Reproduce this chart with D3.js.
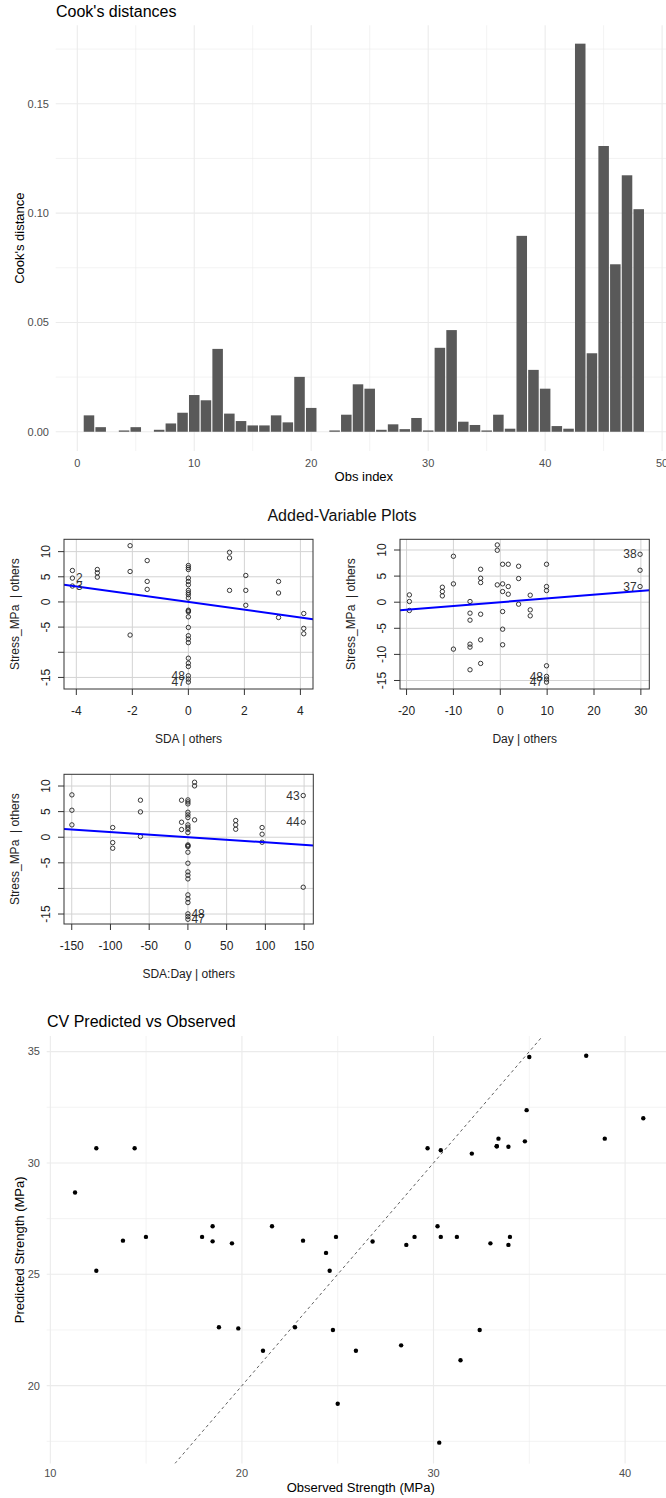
<!DOCTYPE html>
<html><head><meta charset="utf-8">
<script src="https://cdn.jsdelivr.net/npm/d3@7"></script>
<style>
body{margin:0;background:#fff}
svg{display:block}
text{font-family:"Liberation Sans",Arial,Helvetica,sans-serif}
</style>
</head><body>
<svg id="c" width="666" height="1498"></svg>
<script>
// ---------------- Cook's distances ----------------
const cookIndex = [1,2,3,4,5,6,7,8,9,10,11,12,13,14,15,16,17,18,19,20,21,22,23,24,25,26,27,28,29,30,31,32,33,34,35,36,37,38,39,40,41,42,43,44,45,46,47,48];
const cookDist = [0.0075,0.0021,0.0000,0.0006,0.0021,0.0000,0.0009,0.0038,0.0087,0.0168,
  0.0144,0.0379,0.0083,0.0049,0.0029,0.0029,0.0075,0.0043,0.0251,0.0109,
  0.0000,0.0006,0.0078,0.0217,0.0197,0.0009,0.0034,0.0012,0.0063,0.0006,
  0.0384,0.0465,0.0046,0.0031,0.0006,0.0078,0.0014,0.0896,0.0283,0.0197,
  0.0026,0.0014,0.1775,0.0359,0.1307,0.0766,0.1173,0.1018];
const cookXTicks = [0,10,20,30,40,50];
const cookXMinor = [5,15,25,35,45];
const cookYTicks = [0,0.05,0.10,0.15];
const cookYLabels = ["0.00","0.05","0.10","0.15"];
const cookYMinor = [0.025,0.075,0.125,0.175];

// ---------------- Added-variable plots ----------------
const av1X = [-4.14,-4.14,-4.14,-3.25,-3.25,-3.25,-2.08,-2.08,-2.08,-1.47,-1.47,-1.47,
  0,0,0,0,0,0,0,0,0,0,0,0,0,0,0,0,0,0,0,0,0,0,0,0,
  1.47,1.47,1.47,2.05,2.05,2.05,3.22,3.22,3.22,4.12,4.12,4.12];
const av1Y = [6.25,4.74,3.16,6.45,5.79,4.93,11.18,6.05,-6.58,8.22,4.08,2.5,
  7.24,6.84,6.45,4.74,4.08,3.42,2.3,1.84,1.45,0.79,-1.64,-1.78,-1.97,-2.96,-5.07,-6.71,-7.37,-8.09,-11.18,-12.17,-12.83,-14.67,-15.33,-15.92,
  9.87,8.75,2.3,5.26,2.3,-0.66,4.08,1.78,-3.09,-2.3,-5.26,-6.32];
const av1Labels = [{t:"2",x:-4.14,y:4.74,side:"r"},{t:"3",x:-4.14,y:3.16,side:"r"},
  {t:"48",x:0,y:-14.67,side:"l"},{t:"47",x:0,y:-15.92,side:"l"}];

const av2X = [-19.4,-19.4,-19.4,-12.36,-12.36,-12.36,-10,-10,-10,
  -6.46,-6.46,-6.46,-6.46,-6.46,-6.46,-4.19,-4.19,-4.19,-4.19,-4.19,-4.19,
  -0.64,-0.64,-0.64,0.5,0.5,0.5,0.5,0.5,0.5,1.7,1.7,1.7,3.91,3.91,3.91,6.39,6.39,6.39,
  9.87,9.87,9.87,9.87,9.87,9.87,9.87,29.83,29.83,29.83];
const av2Y = [1.40,0.13,-1.59,2.87,2.04,1.21,8.8,3.51,-8.99,
  0.13,-2.1,-3.44,-8.04,-8.6,-12.95,6.31,4.59,3.76,-2.30,-7.21,-11.73,
  10.97,9.95,3.32,7.27,3.51,2.04,-1.79,-5.17,-8.16,7.27,3.0,1.53,6.89,4.53,-0.38,1.34,-1.47,-2.61,
  7.27,3.0,2.23,-12.18,-14.22,-14.73,-15.31,9.18,6.12,3.0];
const av2Labels = [{t:"38",x:29.83,y:9.18,side:"l"},{t:"37",x:29.83,y:3.0,side:"l"},
  {t:"48",x:9.87,y:-14.22,side:"l"},{t:"47",x:9.87,y:-15.31,side:"l"}];

const av3X = [-149.8,-149.8,-149.8,-97.1,-97.1,-97.1,-61.3,-61.3,-61.3,-8.2,-8.2,-8.2,
  0,0,0,0,0,0,0,0,0,0,0,0,0,0,0,0,0,0,0,0,0,0,0,0,
  8.6,8.6,8.6,61.7,61.7,61.7,95.8,95.8,95.8,148.9,148.9,148.9];
const av3Y = [8.27,5.27,2.41,1.89,-1.04,-2.15,7.23,4.95,0.13,7.23,2.93,1.5,
  7.29,6.90,6.51,4.88,4.36,3.84,2.41,1.95,1.56,0.91,-1.50,-1.66,-1.82,-2.93,-5.08,-6.77,-7.42,-8.14,-11.26,-12.04,-12.76,-14.97,-15.49,-16.02,
  10.74,10.03,3.39,3.26,2.41,1.56,1.89,0.59,-0.98,8.14,2.93,-9.77];
const av3Labels = [{t:"43",x:148.9,y:8.14,side:"l"},{t:"44",x:148.9,y:2.93,side:"l"},
  {t:"48",x:0,y:-14.97,side:"r"},{t:"47",x:0,y:-16.02,side:"r"}];

const avSlopes = [-0.77, 0.072, -0.0099];
const av1XTicks = [-4,-2,0,2,4];
const av2XTicks = [-20,-10,0,10,20,30];
const av3XTicks = [-150,-100,-50,0,50,100,150];
const avYTicks = [10,5,0,-5,-10,-15];
const av1YLabels = ["10","5","0","-5","","-15"];
const av2YLabels = ["10","5","0","-5","-10","-15"];
const av3YLabels = ["10","5","0","-5","","-15"];

// ---------------- CV predicted vs observed ----------------
const cvObserved = [11.29,12.40,14.40,13.79,14.99,12.40,17.92,18.47,18.47,19.48,21.57,23.19,24.91,24.39,24.58,
  18.80,19.81,22.77,24.75,21.10,25.95,25.00,
  35.00,37.97,34.86,40.95,29.69,30.38,32.00,33.39,33.30,33.30,33.91,34.77,38.94,30.21,26.82,28.58,29.01,
  30.38,31.22,32.97,33.99,33.91,28.31,32.41,31.41,30.30];
const cvPredicted = [28.67,30.66,30.66,26.51,26.68,25.16,26.68,27.16,26.48,26.39,27.16,26.51,26.68,25.96,25.16,
  22.62,22.57,22.62,22.50,21.57,21.57,19.19,
  34.76,34.81,32.37,32.01,30.66,30.57,30.42,31.09,30.75,30.75,30.73,30.97,31.09,27.16,26.47,26.32,26.68,
  26.68,26.68,26.39,26.68,26.32,21.81,22.50,21.14,17.44];
const cvXTicks = [10,20,30,40];
const cvXMinor = [15,25,35,45];
const cvYTicks = [20,25,30,35];
const cvYMinor = [17.5,22.5,27.5,32.5];

// ================= drawing =================
const svg = d3.select("#c");
svg.append("rect").attr("width",666).attr("height",1498).attr("fill","#fff");

// ---- Cook's distances (ggplot minimal) ----
(function(){
  const x = d3.scaleLinear().domain([-1.845, 50.845]).range([55.7, 672]);
  const y = d3.scaleLinear().domain([-0.0088, 0.1859]).range([451, 25.3]);
  const g = svg.append("g");
  const [x0,x1] = x.range(), [yb,yt] = y.range();
  g.selectAll(".vmin").data(cookXMinor).join("line")
    .attr("x1",d=>x(d)).attr("x2",d=>x(d)).attr("y1",yt).attr("y2",yb)
    .attr("stroke","#EBEBEB").attr("stroke-width",0.6);
  g.selectAll(".hmin").data(cookYMinor).join("line")
    .attr("x1",x0).attr("x2",x1).attr("y1",d=>y(d)).attr("y2",d=>y(d))
    .attr("stroke","#EBEBEB").attr("stroke-width",0.6);
  g.selectAll(".vmaj").data(cookXTicks).join("line")
    .attr("x1",d=>x(d)).attr("x2",d=>x(d)).attr("y1",yt).attr("y2",yb)
    .attr("stroke","#EBEBEB").attr("stroke-width",1.1);
  g.selectAll(".hmaj").data(cookYTicks).join("line")
    .attr("x1",x0).attr("x2",x1).attr("y1",d=>y(d)).attr("y2",d=>y(d))
    .attr("stroke","#EBEBEB").attr("stroke-width",1.1);
  const bw = x(0.9)-x(0);
  g.selectAll(".bar").data(cookIndex).join("rect")
    .attr("x",(d)=>x(d-0.45)).attr("width",bw)
    .attr("y",(d,i)=>y(cookDist[i])).attr("height",(d,i)=>y(0)-y(cookDist[i]))
    .attr("fill","#595959");
  g.selectAll(".yl").data(cookYTicks).join("text")
    .attr("x",49).attr("y",d=>y(d)).attr("dy","0.35em").attr("text-anchor","end")
    .attr("font-size",11).attr("fill","#4D4D4D").text((d,i)=>cookYLabels[i]);
  g.selectAll(".xl").data(cookXTicks).join("text")
    .attr("x",d=>x(d)).attr("y",467).attr("text-anchor","middle")
    .attr("font-size",11).attr("fill","#4D4D4D").text(d=>d);
  g.append("text").attr("x",56).attr("y",17).attr("font-size",16).attr("fill","#000").text("Cook's distances");
  g.append("text").attr("x",(x0+x1)/2).attr("y",481).attr("text-anchor","middle").attr("font-size",13).text("Obs index");
  g.append("text").attr("transform",`translate(24,${(yt+yb)/2}) rotate(-90)`).attr("text-anchor","middle")
    .attr("font-size",13).text("Cook's distance");
})();

// ---- Added-variable plots (base R) ----
svg.append("text").attr("x",342).attr("y",521).attr("text-anchor","middle").attr("font-size",16)
  .attr("fill","#111").text("Added-Variable Plots");

function drawAV(id, box, xDom, yDom, xs, ys, slope, xTicks, yLabels, xTitle, labels){
  const x = d3.scaleLinear().domain(xDom).range([box.l, box.r]);
  const y = d3.scaleLinear().domain(yDom).range([box.b, box.t]);
  const g = svg.append("g");
  g.append("clipPath").attr("id",id).append("rect")
    .attr("x",box.l).attr("y",box.t).attr("width",box.r-box.l).attr("height",box.b-box.t);
  // grid
  g.selectAll(".gv").data(xTicks).join("line")
    .attr("x1",d=>x(d)).attr("x2",d=>x(d)).attr("y1",box.t).attr("y2",box.b)
    .attr("stroke","#D3D3D3").attr("stroke-width",1);
  g.selectAll(".gh").data(avYTicks).join("line")
    .attr("x1",box.l).attr("x2",box.r).attr("y1",d=>y(d)).attr("y2",d=>y(d))
    .attr("stroke","#D3D3D3").attr("stroke-width",1);
  // points
  g.selectAll(".pt").data(xs).join("circle")
    .attr("cx",d=>x(d)).attr("cy",(d,i)=>y(ys[i])).attr("r",2.2)
    .attr("fill","none").attr("stroke","#222").attr("stroke-width",0.9);
  // regression line
  g.append("line").attr("clip-path",`url(#${id})`)
    .attr("x1",x(xDom[0])).attr("y1",y(slope*xDom[0]))
    .attr("x2",x(xDom[1])).attr("y2",y(slope*xDom[1]))
    .attr("stroke","#0000FF").attr("stroke-width",2);
  // labels
  g.selectAll(".lab").data(labels).join("text")
    .attr("x",d=>x(d.x)+(d.side==="r"?3.5:-3.5)).attr("y",d=>y(d.y)).attr("dy","0.35em")
    .attr("text-anchor",d=>d.side==="r"?"start":"end").attr("font-size",12).attr("fill","#333")
    .text(d=>d.t);
  // box
  g.append("rect").attr("x",box.l).attr("y",box.t).attr("width",box.r-box.l).attr("height",box.b-box.t)
    .attr("fill","none").attr("stroke","#333").attr("stroke-width",1);
  // x axis ticks
  g.selectAll(".xt").data(xTicks).join("line")
    .attr("x1",d=>x(d)).attr("x2",d=>x(d)).attr("y1",box.b).attr("y2",box.b+6)
    .attr("stroke","#333");
  g.selectAll(".xtl").data(xTicks).join("text")
    .attr("x",d=>x(d)).attr("y",box.b+26).attr("text-anchor","middle").attr("font-size",12).attr("fill","#222")
    .text(d=>d);
  // y axis ticks
  g.selectAll(".yt").data(avYTicks).join("line")
    .attr("x1",box.l-6).attr("x2",box.l).attr("y1",d=>y(d)).attr("y2",d=>y(d))
    .attr("stroke","#333");
  g.selectAll(".ytl").data(avYTicks).join("text")
    .attr("transform",d=>`translate(${box.l-14},${y(d)}) rotate(-90)`)
    .attr("text-anchor","middle").attr("font-size",12).attr("fill","#222")
    .text((d,i)=>yLabels[i]);
  // titles
  g.append("text").attr("x",(box.l+box.r)/2).attr("y",box.b+54).attr("text-anchor","middle")
    .attr("font-size",12).attr("fill","#222").text(xTitle);
  g.append("text").attr("transform",`translate(${box.l-45},${(box.t+box.b)/2}) rotate(-90)`)
    .attr("text-anchor","middle").attr("font-size",12).attr("fill","#222")
    .style("white-space","pre").text("Stress_MPa  | others");
}
drawAV("clipA",{l:64,r:313,t:539.3,b:689},[-4.44,4.45],[-17.3,12.45],av1X,av1Y,avSlopes[0],av1XTicks,av1YLabels,"SDA | others",av1Labels);
drawAV("clipB",{l:400,r:649.3,t:539.3,b:689},[-21.4,31.8],[-16.63,12.05],av2X,av2Y,avSlopes[1],av2XTicks,av2YLabels,"Day | others",av2Labels);
drawAV("clipC",{l:64,r:313.3,t:774.3,b:924},[-160,161.9],[-16.95,12.29],av3X,av3Y,avSlopes[2],av3XTicks,av3YLabels,"SDA:Day | others",av3Labels);

// ---- CV predicted vs observed (ggplot minimal) ----
(function(){
  const x = d3.scaleLinear().domain([9.81, 42.6]).range([46.7, 674.9]);
  const y = d3.scaleLinear().domain([16.5, 35.7]).range([1463.6, 1036]);
  const g = svg.append("g");
  const [x0,x1] = x.range(), [yb,yt] = y.range();
  g.append("clipPath").attr("id","clipCV").append("rect")
    .attr("x",x0).attr("y",yt).attr("width",x1-x0).attr("height",yb-yt);
  g.selectAll(".vmin").data(cvXMinor).join("line")
    .attr("x1",d=>x(d)).attr("x2",d=>x(d)).attr("y1",yt).attr("y2",yb)
    .attr("stroke","#EBEBEB").attr("stroke-width",0.6);
  g.selectAll(".hmin").data(cvYMinor).join("line")
    .attr("x1",x0).attr("x2",x1).attr("y1",d=>y(d)).attr("y2",d=>y(d))
    .attr("stroke","#EBEBEB").attr("stroke-width",0.6);
  g.selectAll(".vmaj").data(cvXTicks).join("line")
    .attr("x1",d=>x(d)).attr("x2",d=>x(d)).attr("y1",yt).attr("y2",yb)
    .attr("stroke","#EBEBEB").attr("stroke-width",1.1);
  g.selectAll(".hmaj").data(cvYTicks).join("line")
    .attr("x1",x0).attr("x2",x1).attr("y1",d=>y(d)).attr("y2",d=>y(d))
    .attr("stroke","#EBEBEB").attr("stroke-width",1.1);
  const dom = y.domain();
  g.append("line").attr("clip-path","url(#clipCV)")
    .attr("x1",x(dom[0])).attr("y1",y(dom[0])).attr("x2",x(dom[1])).attr("y2",y(dom[1]))
    .attr("stroke","#4D4D4D").attr("stroke-width",0.9).attr("stroke-dasharray","3,3");
  g.selectAll(".pt").data(cvObserved).join("circle")
    .attr("cx",d=>x(d)).attr("cy",(d,i)=>y(cvPredicted[i])).attr("r",2.2).attr("fill","#000");
  g.selectAll(".yl").data(cvYTicks).join("text")
    .attr("x",40).attr("y",d=>y(d)).attr("dy","0.35em").attr("text-anchor","end")
    .attr("font-size",11).attr("fill","#4D4D4D").text(d=>d);
  g.selectAll(".xl").data(cvXTicks).join("text")
    .attr("x",d=>x(d)).attr("y",1477).attr("text-anchor","middle")
    .attr("font-size",11).attr("fill","#4D4D4D").text(d=>d);
  g.append("text").attr("x",47).attr("y",1027).attr("font-size",16).text("CV Predicted vs Observed");
  g.append("text").attr("x",(x0+x1)/2).attr("y",1492).attr("text-anchor","middle").attr("font-size",13)
    .text("Observed Strength (MPa)");
  g.append("text").attr("transform",`translate(24,${(yt+yb)/2}) rotate(-90)`).attr("text-anchor","middle")
    .attr("font-size",13).text("Predicted Strength (MPa)");
})();
</script>
</body></html>
